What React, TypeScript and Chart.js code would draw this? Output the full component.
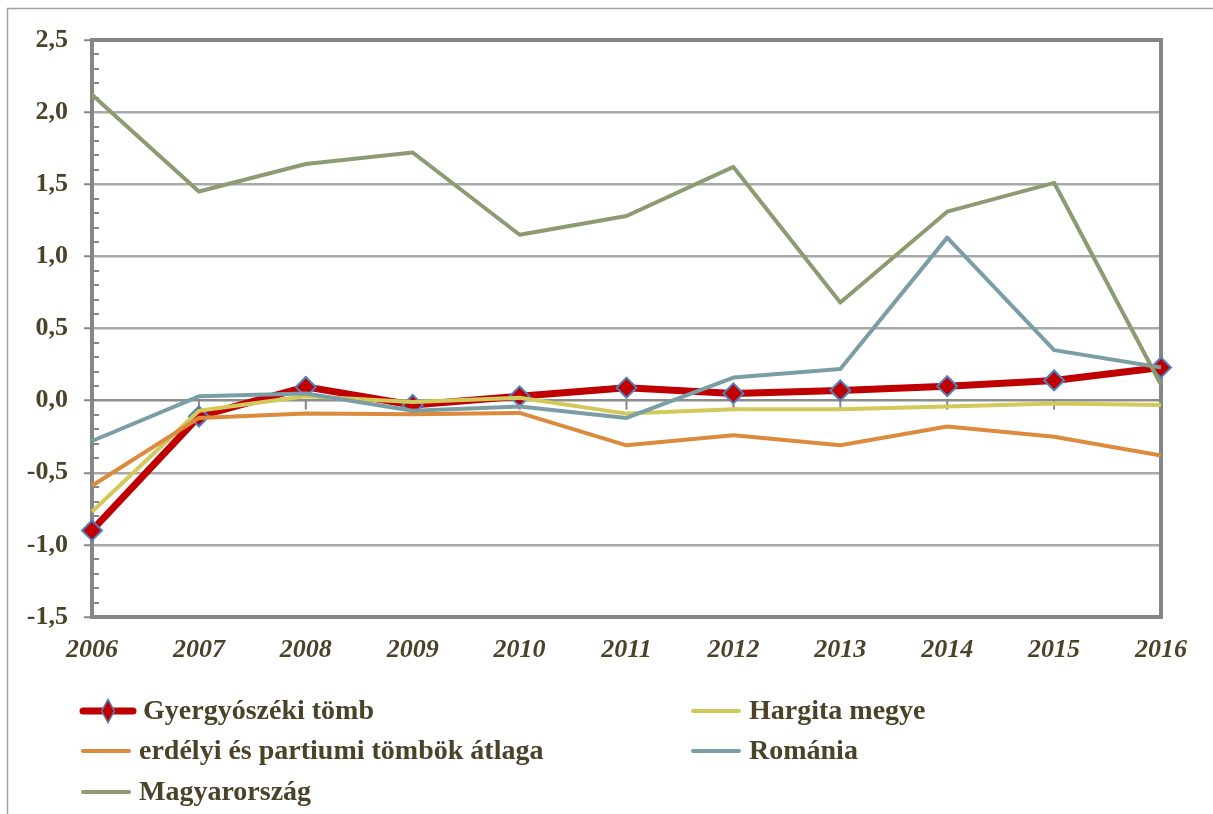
import React, { useEffect, useRef } from "react";
import { Chart, registerables } from "chart.js";

Chart.register(...registerables);

const years = ["2006", "2007", "2008", "2009", "2010", "2011", "2012", "2013", "2014", "2015", "2016"];
const gyergyo = [-0.9, -0.11, 0.095, -0.03, 0.03, 0.09, 0.05, 0.07, 0.1, 0.14, 0.23];
const hargita = [-0.77, -0.07, 0.03, -0.01, 0.02, -0.09, -0.06, -0.06, -0.04, -0.02, -0.03];
const erdelyi = [-0.59, -0.12, -0.09, -0.095, -0.085, -0.31, -0.24, -0.31, -0.18, -0.25, -0.38];
const romania = [-0.28, 0.03, 0.05, -0.07, -0.04, -0.12, 0.16, 0.22, 1.13, 0.35, 0.23];
const magyar = [2.12, 1.45, 1.64, 1.72, 1.15, 1.28, 1.62, 0.68, 1.31, 1.51, 0.11];

const seriesNames = [
  "Gyergyószéki tömb",
  "Hargita megye",
  "erdélyi és partiumi tömbök átlaga",
  "Románia",
  "Magyarország",
];

const FONT = "'Liberation Serif', 'Times New Roman', serif";
const TEXT = "#4a4329";
const AXIS = "#868686";

const framePlugin = {
  id: "frame",
  beforeDraw(chart: any) {
    const ctx = chart.ctx;
    ctx.save();
    ctx.fillStyle = "#ffffff";
    ctx.fillRect(0, 0, chart.width, chart.height);
    ctx.strokeStyle = "#a0a0a0";
    ctx.lineWidth = 1.5;
    ctx.beginPath();
    ctx.moveTo(7.5, chart.height + 2);
    ctx.lineTo(7.5, 8.5);
    ctx.lineTo(chart.width + 2, 8.5);
    ctx.stroke();
    ctx.restore();
  },
  beforeDatasetsDraw(chart: any) {
    const ctx = chart.ctx;
    const { left, right, top, bottom } = chart.chartArea;
    const y = chart.scales.y;
    const x = chart.scales.x;
    ctx.save();
    ctx.strokeStyle = AXIS;
    ctx.lineWidth = 2;
    for (let i = -15; i <= 25; i++) {
      if (i % 5 === 0) continue;
      const py = Math.round(y.getPixelForValue(i / 10));
      ctx.beginPath();
      ctx.moveTo(left, py);
      ctx.lineTo(left + 7, py);
      ctx.stroke();
    }
    const y0 = y.getPixelForValue(0);
    for (let i = 1; i < years.length - 1; i++) {
      const px = x.getPixelForValue(i);
      ctx.beginPath();
      ctx.moveTo(px, y0);
      ctx.lineTo(px, y0 + 9);
      ctx.stroke();
    }
    ctx.lineWidth = 4;
    ctx.strokeRect(left, top, right - left, bottom - top);
    ctx.restore();
  },
  afterDraw(chart: any) {
    const ctx = chart.ctx;
    const cols = [80, 690];
    const rows = [711, 751, 792];
    ctx.save();
    chart.data.datasets.forEach((ds: any, i: number) => {
      const cx = cols[i % 2];
      const cy = rows[Math.floor(i / 2)];
      const lineLen = i === 0 ? 56 : 52;
      ctx.strokeStyle = ds.borderColor;
      ctx.lineWidth = i === 0 ? 7 : 4;
      ctx.lineCap = "round";
      ctx.beginPath();
      ctx.moveTo(cx + 3, cy);
      ctx.lineTo(cx + lineLen - 3, cy);
      ctx.stroke();
      if (i === 0) {
        const mx = cx + lineLen / 2;
        const r = 9;
        ctx.fillStyle = ds.pointBackgroundColor;
        ctx.strokeStyle = ds.pointBorderColor;
        ctx.lineWidth = 1.5;
        ctx.beginPath();
        ctx.moveTo(mx, cy - r * 1.3);
        ctx.lineTo(mx + r * 0.7, cy);
        ctx.lineTo(mx, cy + r * 1.3);
        ctx.lineTo(mx - r * 0.7, cy);
        ctx.closePath();
        ctx.fill();
        ctx.stroke();
      }
      ctx.fillStyle = TEXT;
      ctx.font = `bold 28px ${FONT}`;
      ctx.textBaseline = "middle";
      ctx.textAlign = "left";
      ctx.fillText(ds.label, cx + lineLen + 7, cy + 1);
    });
    ctx.restore();
  },
};

export default function App() {
  const ref = useRef<HTMLCanvasElement | null>(null);
  useEffect(() => {
    if (!ref.current) return;
    const chart = new Chart(ref.current, {
      type: "line",
      data: {
        labels: years,
        datasets: [
          {
            label: seriesNames[0],
            data: gyergyo,
            borderColor: "#c00000",
            backgroundColor: "#c00000",
            borderWidth: 7,
            pointStyle: "rectRot",
            pointRadius: 10,
            pointBackgroundColor: "#c00000",
            pointBorderColor: "#4f81bd",
            pointBorderWidth: 2,
            order: 4,
            clip: false as any,
          },
          {
            label: seriesNames[1],
            data: hargita,
            borderColor: "#d1c95a",
            backgroundColor: "#d1c95a",
            borderWidth: 4,
            pointRadius: 0,
            order: 3,
            clip: false as any,
          },
          {
            label: seriesNames[2],
            data: erdelyi,
            borderColor: "#dc8a3c",
            backgroundColor: "#dc8a3c",
            borderWidth: 4,
            pointRadius: 0,
            order: 2,
            clip: false as any,
          },
          {
            label: seriesNames[3],
            data: romania,
            borderColor: "#7b9ea6",
            backgroundColor: "#7b9ea6",
            borderWidth: 4,
            pointRadius: 0,
            order: 1,
            clip: false as any,
          },
          {
            label: seriesNames[4],
            data: magyar,
            borderColor: "#8c9b72",
            backgroundColor: "#8c9b72",
            borderWidth: 4,
            pointRadius: 0,
            order: 0,
            clip: false as any,
          },
        ],
      },
      options: {
        animation: false,
        responsive: false,
        maintainAspectRatio: false,
        events: [],
        layout: { padding: { left: 0, top: 40, right: 52, bottom: 0 } },
        plugins: { legend: { display: false }, tooltip: { enabled: false } },
        elements: { line: { tension: 0, borderJoinStyle: "round" as any } },
        scales: {
          x: {
            type: "category",
            offset: false,
            grid: { display: false, drawTicks: false },
            border: { display: false },
            ticks: {
              color: TEXT,
              padding: 18,
              maxRotation: 0,
              autoSkip: false,
              font: { family: FONT, size: 26, weight: "bold", style: "italic" },
            },
            afterFit(scale: any) {
              scale.height = 197;
            },
          },
          y: {
            min: -1.5,
            max: 2.5,
            ticks: {
              stepSize: 0.5,
              color: TEXT,
              padding: 16,
              font: { family: FONT, size: 26, weight: "bold" },
              callback: (v: any) => Number(v).toFixed(1).replace(".", ","),
            },
            grid: {
              color: (c: any) => (c.tick && Math.abs(c.tick.value) < 1e-9 ? "#8c8c8c" : "#a8a8a8"),
              tickColor: AXIS,
              lineWidth: 2.5,
              tickWidth: 2,
              tickLength: 8,
              drawTicks: true,
            },
            border: { display: false },
            afterFit(scale: any) {
              scale.width = 92;
            },
          },
        },
      },
      plugins: [framePlugin],
    });
    return () => chart.destroy();
  }, []);
  return (
    <div style={{ position: "fixed", left: 0, top: 0, width: 1213, height: 814, background: "#fff" }}>
      <canvas ref={ref} width={1213} height={814} style={{ width: 1213, height: 814, display: "block" }} />
    </div>
  );
}
